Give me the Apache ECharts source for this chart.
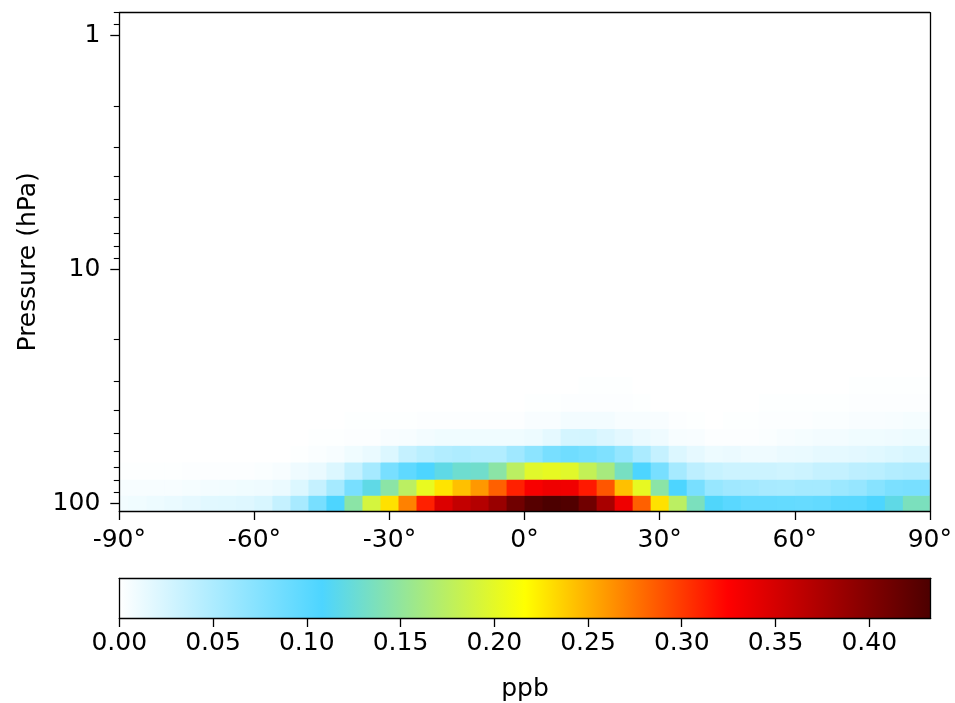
<!DOCTYPE html>
<html>
<head>
<meta charset="utf-8">
<script src="https://cdn.jsdelivr.net/npm/echarts@6/dist/echarts.min.js"></script>
<style>
html,body{margin:0;padding:0;background:#fff;}
#chart{width:955px;height:703px;}
</style>
</head>
<body>
<div id="chart"></div>
<script>
// ---- data ----
const latEdges = [-90,-88,-84,-80,-76,-72,-68,-64,-60,-56,-52,-48,-44,-40,-36,-32,-28,-24,-20,-16,-12,-8,-4,0,4,8,12,16,20,24,28,32,36,40,44,48,52,56,60,64,68,72,76,80,84,88,90];
// pressure edges (hPa), bottom row first
const pressureEdges = [108, 92.4, 78.9, 66.6, 56.5, 47.9, 40.4, 34.0, 28.8];
const xTickValues = [-90,-60,-30,0,30,60,90];
const yMajorTicks = [1,10,100];
const yMinorTicks = [0.8,0.9,2,3,4,5,6,7,8,9,20,30,40,50,60,70,80,90];
const cbarTicks = [0,0.05,0.10,0.15,0.20,0.25,0.30,0.35,0.40];
const vmin = 0, vmax = 0.4328;
const cmap = ['#ffffff','#4dd5ff','#ffff00','#ff0000','#4c0000'];

const row0 = [0.008,0.009,0.011,0.013,0.015,0.018,0.019,0.020,0.024,0.035,0.053,0.082,0.108,0.146,0.190,0.229,0.270,0.311,0.346,0.361,0.370,0.386,0.411,0.427,0.433,0.430,0.411,0.377,0.334,0.284,0.229,0.175,0.136,0.110,0.100,0.095,0.095,0.094,0.093,0.095,0.100,0.101,0.108,0.119,0.136,0.136];
const row1 = [0.005,0.005,0.005,0.005,0.006,0.007,0.008,0.009,0.010,0.012,0.021,0.035,0.055,0.082,0.119,0.146,0.175,0.203,0.228,0.243,0.260,0.284,0.311,0.329,0.334,0.333,0.314,0.288,0.243,0.202,0.146,0.108,0.082,0.063,0.058,0.056,0.053,0.052,0.055,0.055,0.060,0.064,0.073,0.080,0.082,0.082];
const row2 = [0.001,0.001,0.001,0.001,0.002,0.002,0.002,0.002,0.003,0.005,0.010,0.013,0.021,0.036,0.054,0.082,0.097,0.108,0.119,0.128,0.130,0.146,0.175,0.198,0.202,0.198,0.180,0.163,0.134,0.108,0.082,0.054,0.040,0.034,0.031,0.031,0.031,0.029,0.031,0.035,0.036,0.040,0.042,0.046,0.048,0.048];
const row3 = [0,0,0,0,0,0,0,0,0,0,0.001,0.003,0.005,0.009,0.013,0.021,0.035,0.042,0.047,0.049,0.047,0.047,0.058,0.070,0.082,0.087,0.083,0.078,0.065,0.051,0.035,0.021,0.015,0.011,0.012,0.010,0.010,0.012,0.013,0.015,0.016,0.017,0.019,0.021,0.024,0.024];
const row4 = [0,0,0,0,0,0,0,0,0,0,0,0.001,0.001,0.002,0.002,0.004,0.005,0.007,0.009,0.009,0.009,0.009,0.009,0.011,0.016,0.026,0.027,0.022,0.017,0.012,0.010,0.005,0.004,0.002,0.002,0.002,0.003,0.005,0.006,0.007,0.007,0.009,0.009,0.010,0.011,0.011];
const row5 = [0,0,0,0,0,0,0,0,0,0,0,0,0,0.001,0.001,0.001,0.001,0.002,0.002,0.002,0.002,0.002,0.002,0.004,0.004,0.007,0.007,0.007,0.005,0.005,0.004,0.002,0.001,0,0.001,0.001,0.002,0.002,0.002,0.003,0.003,0.004,0.004,0.005,0.006,0.006];
const row6 = [0,0,0,0,0,0,0,0,0,0,0,0,0,0,0,0,0,0,0,0,0,0,0,0.001,0.001,0.002,0.002,0.002,0.002,0.001,0,0,0,0,0,0,0.001,0.001,0.001,0.001,0.001,0.002,0.002,0.002,0.002,0.002];
const row7 = [0,0,0,0,0,0,0,0,0,0,0,0,0,0,0,0,0,0,0,0,0,0,0,0,0,0,0.001,0.001,0.001,0,0,0,0,0,0,0,0,0,0,0,0,0.001,0.001,0.001,0.001,0.001];
const rows = [row0,row1,row2,row3,row4,row5,row6,row7];

// ---- build cells ----
const cells = [];
rows.forEach((row, r) => {
  row.forEach((v, c) => {
    cells.push([latEdges[c], latEdges[c+1], pressureEdges[r], pressureEdges[r+1], v]);
  });
});

const FONT = 'DejaVu Sans';
const FS = 25;
const chart = echarts.init(document.getElementById('chart'), null, {renderer:'canvas'});

function cellRender(params, api) {
  const a = api.coord([api.value(0), api.value(3)]);
  const b = api.coord([api.value(1), api.value(2)]);
  const rect = echarts.graphic.clipRectByRect({
    x: a[0], y: a[1], width: b[0]-a[0]+0.6, height: b[1]-a[1]+0.6
  }, params.coordSys);
  if (!rect) return null;
  return { type:'rect', shape: rect, style: { fill: api.visual('color') } };
}

const gradStops = cmap.map((c,i)=>({offset:i/(cmap.length-1), color:c}));
function cbarRender(params, api) {
  const a = api.coord([api.value(0), 1]);
  const b = api.coord([api.value(1), 0]);
  return { type:'rect', shape:{x:a[0], y:a[1], width:b[0]-a[0], height:b[1]-a[1]},
    style:{ fill: new echarts.graphic.LinearGradient(0,0,1,0,gradStops) } };
}

const axisLineStyle = {color:'#000', width:1.3};
const option = {
  animation:false,
  backgroundColor:'#fff',
  textStyle:{fontFamily:FONT},
  grid:[
    {left:119.3, top:12.7, width:811.4, height:498.3, show:false},
    {left:119.3, top:578.3, width:811.4, height:40, show:false}
  ],
  xAxis:[
    {gridIndex:0, type:'value', min:-90, max:90, interval:30, position:'bottom', z:10,
     axisLine:{show:true, onZero:false, lineStyle:axisLineStyle},
     axisTick:{show:true, length:9, lineStyle:axisLineStyle, customValues:xTickValues},
     axisLabel:{show:true, customValues:xTickValues, formatter:v=>v+'°', fontSize:FS, color:'#000', fontFamily:FONT, margin:17},
     splitLine:{show:false}},
    {gridIndex:0, type:'value', min:-90, max:90, position:'top', z:10,
     axisLine:{show:true, onZero:false, lineStyle:axisLineStyle},
     axisTick:{show:false}, axisLabel:{show:false}, splitLine:{show:false}},
    {gridIndex:1, type:'value', min:vmin, max:vmax, interval:0.05, position:'bottom', z:10,
     axisLine:{show:true, onZero:false, lineStyle:axisLineStyle},
     axisTick:{show:true, length:9, lineStyle:axisLineStyle, customValues:cbarTicks},
     axisLabel:{show:true, customValues:cbarTicks, formatter:v=>v.toFixed(2), fontSize:FS, color:'#000', fontFamily:FONT, margin:13},
     splitLine:{show:false},
     name:'ppb', nameLocation:'middle', nameGap:59, nameTextStyle:{fontSize:FS, color:'#000', fontFamily:FONT}},
    {gridIndex:1, type:'value', min:vmin, max:vmax, position:'top', z:10,
     axisLine:{show:true, onZero:false, lineStyle:axisLineStyle},
     axisTick:{show:false}, axisLabel:{show:false}, splitLine:{show:false}}
  ],
  yAxis:[
    {gridIndex:0, type:'log', logBase:10, min:0.8, max:108, inverse:true, position:'left', z:10,
     axisLine:{show:true, onZero:false, lineStyle:axisLineStyle},
     axisTick:{show:true, length:9, lineStyle:axisLineStyle, customValues:yMajorTicks},
     axisLabel:{show:true, customValues:yMajorTicks, formatter:v=>String(v), fontSize:FS, color:'#000', fontFamily:FONT, margin:19},
     splitLine:{show:false}, minorTick:{show:false},
     name:'Pressure (hPa)', nameLocation:'middle', nameGap:78, nameRotate:90,
     nameTextStyle:{fontSize:FS, color:'#000', fontFamily:FONT}},
    {gridIndex:0, type:'log', logBase:10, min:0.8, max:108, inverse:true, position:'left', z:10,
     axisLine:{show:false, onZero:false},
     axisTick:{show:true, length:5.5, lineStyle:{color:'#000', width:1.1}, customValues:yMinorTicks},
     axisLabel:{show:false}, splitLine:{show:false}},
    {gridIndex:0, type:'log', logBase:10, min:0.8, max:108, inverse:true, position:'right', z:10,
     axisLine:{show:true, onZero:false, lineStyle:axisLineStyle},
     axisTick:{show:false}, axisLabel:{show:false}, splitLine:{show:false}},
    {gridIndex:1, type:'value', min:0, max:1, position:'left', z:10,
     axisLine:{show:true, onZero:false, lineStyle:axisLineStyle},
     axisTick:{show:false}, axisLabel:{show:false}, splitLine:{show:false}},
    {gridIndex:1, type:'value', min:0, max:1, position:'right', z:10,
     axisLine:{show:true, onZero:false, lineStyle:axisLineStyle},
     axisTick:{show:false}, axisLabel:{show:false}, splitLine:{show:false}}
  ],
  visualMap:{type:'continuous', show:false, min:vmin, max:vmax, dimension:4, seriesIndex:0,
    inRange:{color:cmap}},
  series:[
    {type:'custom', xAxisIndex:0, yAxisIndex:0, renderItem:cellRender,
     encode:{x:[0,1], y:[2,3]}, data:cells, silent:true},
    {type:'custom', xAxisIndex:2, yAxisIndex:3, renderItem:cbarRender,
     encode:{x:[0,1]}, data:[[vmin, vmax]], silent:true}
  ]
};
chart.setOption(option);
</script>
</body>
</html>
